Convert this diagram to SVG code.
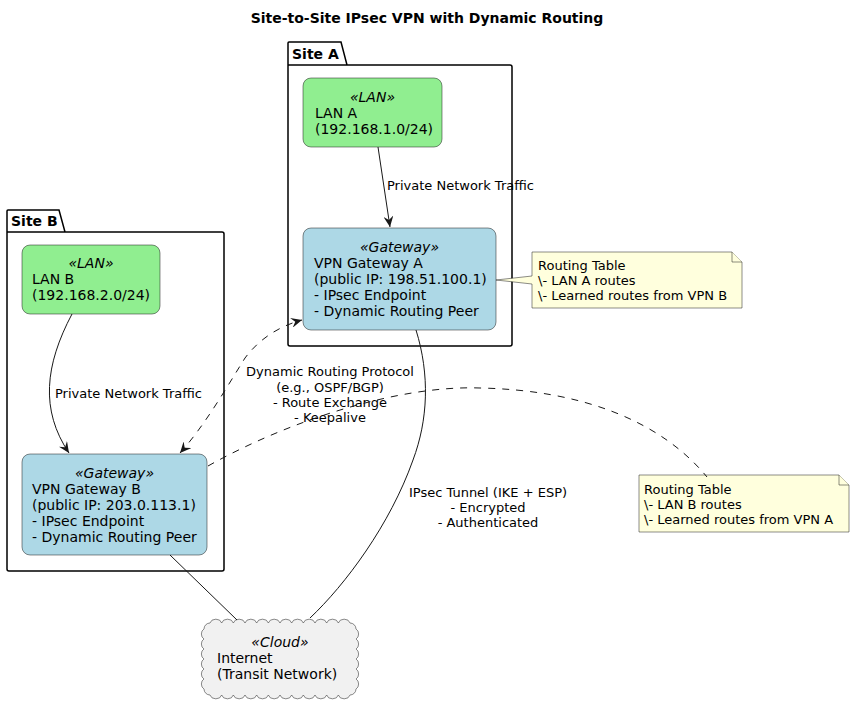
<svg xmlns="http://www.w3.org/2000/svg" width="855" height="708" viewBox="0 0 855 708">
<style>
text{font-family:"DejaVu Sans","Liberation Sans",sans-serif;fill:#000}
.title{font-size:14px;font-weight:bold}
.pkgl{font-size:14px;font-weight:bold}
.pkg{fill:none;stroke:#000;stroke-width:1.5}
.n{font-size:14px}
.st{font-size:14px;font-style:italic}
.lan{fill:#90EE90;stroke:#181818;stroke-width:0.5}
.gw{fill:#ADD8E6;stroke:#181818;stroke-width:0.5}
.cloud{fill:#F1F1F1;stroke:#181818;stroke-width:0.5}
.note{fill:#FFFFDD;stroke:#181818;stroke-width:0.5}
.nt{font-size:13px}
.lbl{font-size:13px}
.c{fill:none;stroke:#181818;stroke-width:1}
.d{stroke-dasharray:7,7}
</style>
<defs>
<marker id="ah" viewBox="0 0 12 10" refX="11" refY="5" markerWidth="12" markerHeight="10" markerUnits="userSpaceOnUse" orient="auto-start-reverse">
<path d="M0,0 L11,5 L0,10 L4,5 Z" fill="#181818"/>
</marker>
</defs>
<text class="title" x="427" y="23" text-anchor="middle">Site-to-Site IPsec VPN with Dynamic Routing</text>

<g id="siteA">
<path class="pkg" d="M288,65 L288,43 Q288,42 289,42 L341,42 L347,65 L510,65 Q512,65 512,67 L512,344 Q512,346 510,346 L290,346 Q288,346 288,344 Z M288,65 L347,65"/>
<text class="pkgl" x="292" y="59">Site A</text>
</g>
<g id="siteB">
<path class="pkg" d="M7,232 L7,211 Q7,210 8,210 L59,210 L65,232 L222,232 Q224,232 224,234 L224,569 Q224,571 222,571 L9,571 Q7,571 7,569 Z M7,232 L65,232"/>
<text class="pkgl" x="11" y="226">Site B</text>
</g>

<g id="lanA">
<rect class="lan" x="303" y="78" width="139" height="69" rx="8"/>
<text class="st" x="372.5" y="102" text-anchor="middle">«LAN»</text>
<text class="n" x="315" y="118">LAN A</text>
<text class="n" x="315" y="134">(192.168.1.0/24)</text>
</g>
<g id="gwA">
<rect class="gw" x="303" y="228" width="193" height="102" rx="8"/>
<text class="st" x="399.5" y="252" text-anchor="middle">«Gateway»</text>
<text class="n" x="314" y="268">VPN Gateway A</text>
<text class="n" x="314" y="284">(public IP: 198.51.100.1)</text>
<text class="n" x="314" y="300">- IPsec Endpoint</text>
<text class="n" x="314" y="316">- Dynamic Routing Peer</text>
</g>
<g id="lanB">
<rect class="lan" x="22" y="245" width="138" height="69" rx="8"/>
<text class="st" x="91" y="268" text-anchor="middle">«LAN»</text>
<text class="n" x="32" y="284">LAN B</text>
<text class="n" x="32" y="300">(192.168.2.0/24)</text>
</g>
<g id="gwB">
<rect class="gw" x="22" y="454" width="185" height="101" rx="8"/>
<text class="st" x="114.5" y="478" text-anchor="middle">«Gateway»</text>
<text class="n" x="32" y="494">VPN Gateway B</text>
<text class="n" x="32" y="510">(public IP: 203.0.113.1)</text>
<text class="n" x="32" y="526">- IPsec Endpoint</text>
<text class="n" x="32" y="542">- Dynamic Routing Peer</text>
</g>
<g id="internet">
<path class="cloud" d="M210,623 a6,5 0 0 1 11.667,0 a6,5 0 0 1 11.667,0 a6,5 0 0 1 11.667,0 a6,5 0 0 1 11.667,0 a6,5 0 0 1 11.667,0 a6,5 0 0 1 11.667,0 a6,5 0 0 1 11.667,0 a6,5 0 0 1 11.667,0 a6,5 0 0 1 11.667,0 a6,5 0 0 1 11.667,0 a6,5 0 0 1 11.667,0 a6,5 0 0 1 11.667,0 a6,6 0 0 1 6,6 a4.5,5.5 0 0 1 0,10 a4.5,5.5 0 0 1 0,10 a4.5,5.5 0 0 1 0,10 a4.5,5.5 0 0 1 0,10 a4.5,5.5 0 0 1 0,10 a4.5,5.5 0 0 1 0,10 a6,6 0 0 1 -6,6 a6,5 0 0 1 -11.667,0 a6,5 0 0 1 -11.667,0 a6,5 0 0 1 -11.667,0 a6,5 0 0 1 -11.667,0 a6,5 0 0 1 -11.667,0 a6,5 0 0 1 -11.667,0 a6,5 0 0 1 -11.667,0 a6,5 0 0 1 -11.667,0 a6,5 0 0 1 -11.667,0 a6,5 0 0 1 -11.667,0 a6,5 0 0 1 -11.667,0 a6,5 0 0 1 -11.667,0 a6,6 0 0 1 -6,-6 a4.5,5.5 0 0 1 0,-10 a4.5,5.5 0 0 1 0,-10 a4.5,5.5 0 0 1 0,-10 a4.5,5.5 0 0 1 0,-10 a4.5,5.5 0 0 1 0,-10 a4.5,5.5 0 0 1 0,-10 a6,6 0 0 1 6,-6 Z"/>
<text class="st" x="280" y="647" text-anchor="middle">«Cloud»</text>
<text class="n" x="217" y="663">Internet</text>
<text class="n" x="217" y="679">(Transit Network)</text>
</g>
<g id="noteA">
<path class="note" d="M532,252 L732,252 L742,262 L742,308 L532,308 L532,284 L496,280 L532,276 Z"/>
<path class="note" d="M732,252 L732,262 L742,262"/>
<text class="nt" x="538" y="270">Routing Table</text>
<text class="nt" x="538" y="285">\- LAN A routes</text>
<text class="nt" x="538" y="300">\- Learned routes from VPN B</text>
</g>
<g id="noteB">
<path class="note" d="M639,475 L839,475 L849,485 L849,532 L639,532 Z"/>
<path class="note" d="M839,475 L839,485 L849,485"/>
<text class="nt" x="644" y="494">Routing Table</text>
<text class="nt" x="644" y="509">\- LAN B routes</text>
<text class="nt" x="644" y="524">\- Learned routes from VPN A</text>
</g>

<g id="connectors">
<path class="c" d="M378,147 L390,227" marker-end="url(#ah)"/>
<text class="lbl" x="387" y="190">Private Network Traffic</text>
<path class="c" d="M72,314 C45,365 40,410 69,453" marker-end="url(#ah)"/>
<text class="lbl" x="55" y="398">Private Network Traffic</text>
<path class="c d" d="M180,453 C205,425 225,390 245,358 C260,338 280,326 302,320" marker-start="url(#ah)" marker-end="url(#ah)"/>
<text class="lbl" x="330" y="376" text-anchor="middle">Dynamic Routing Protocol</text>
<text class="lbl" x="330" y="392" text-anchor="middle">(e.g., OSPF/BGP)</text>
<text class="lbl" x="330" y="407" text-anchor="middle">- Route Exchange</text>
<text class="lbl" x="330" y="422" text-anchor="middle">- Keepalive</text>
<path class="c d" d="M208,466 C290,420 400,385 480,388 C580,390 660,420 707,477"/>
<path class="c" d="M416,330 C430,375 428,420 413,460 C390,525 345,585 310,618"/>
<text class="lbl" x="488" y="497" text-anchor="middle">IPsec Tunnel (IKE + ESP)</text>
<text class="lbl" x="488" y="512" text-anchor="middle">- Encrypted</text>
<text class="lbl" x="488" y="527" text-anchor="middle">- Authenticated</text>
<path class="c" d="M170,555 L237,620"/>
</g>
</svg>
